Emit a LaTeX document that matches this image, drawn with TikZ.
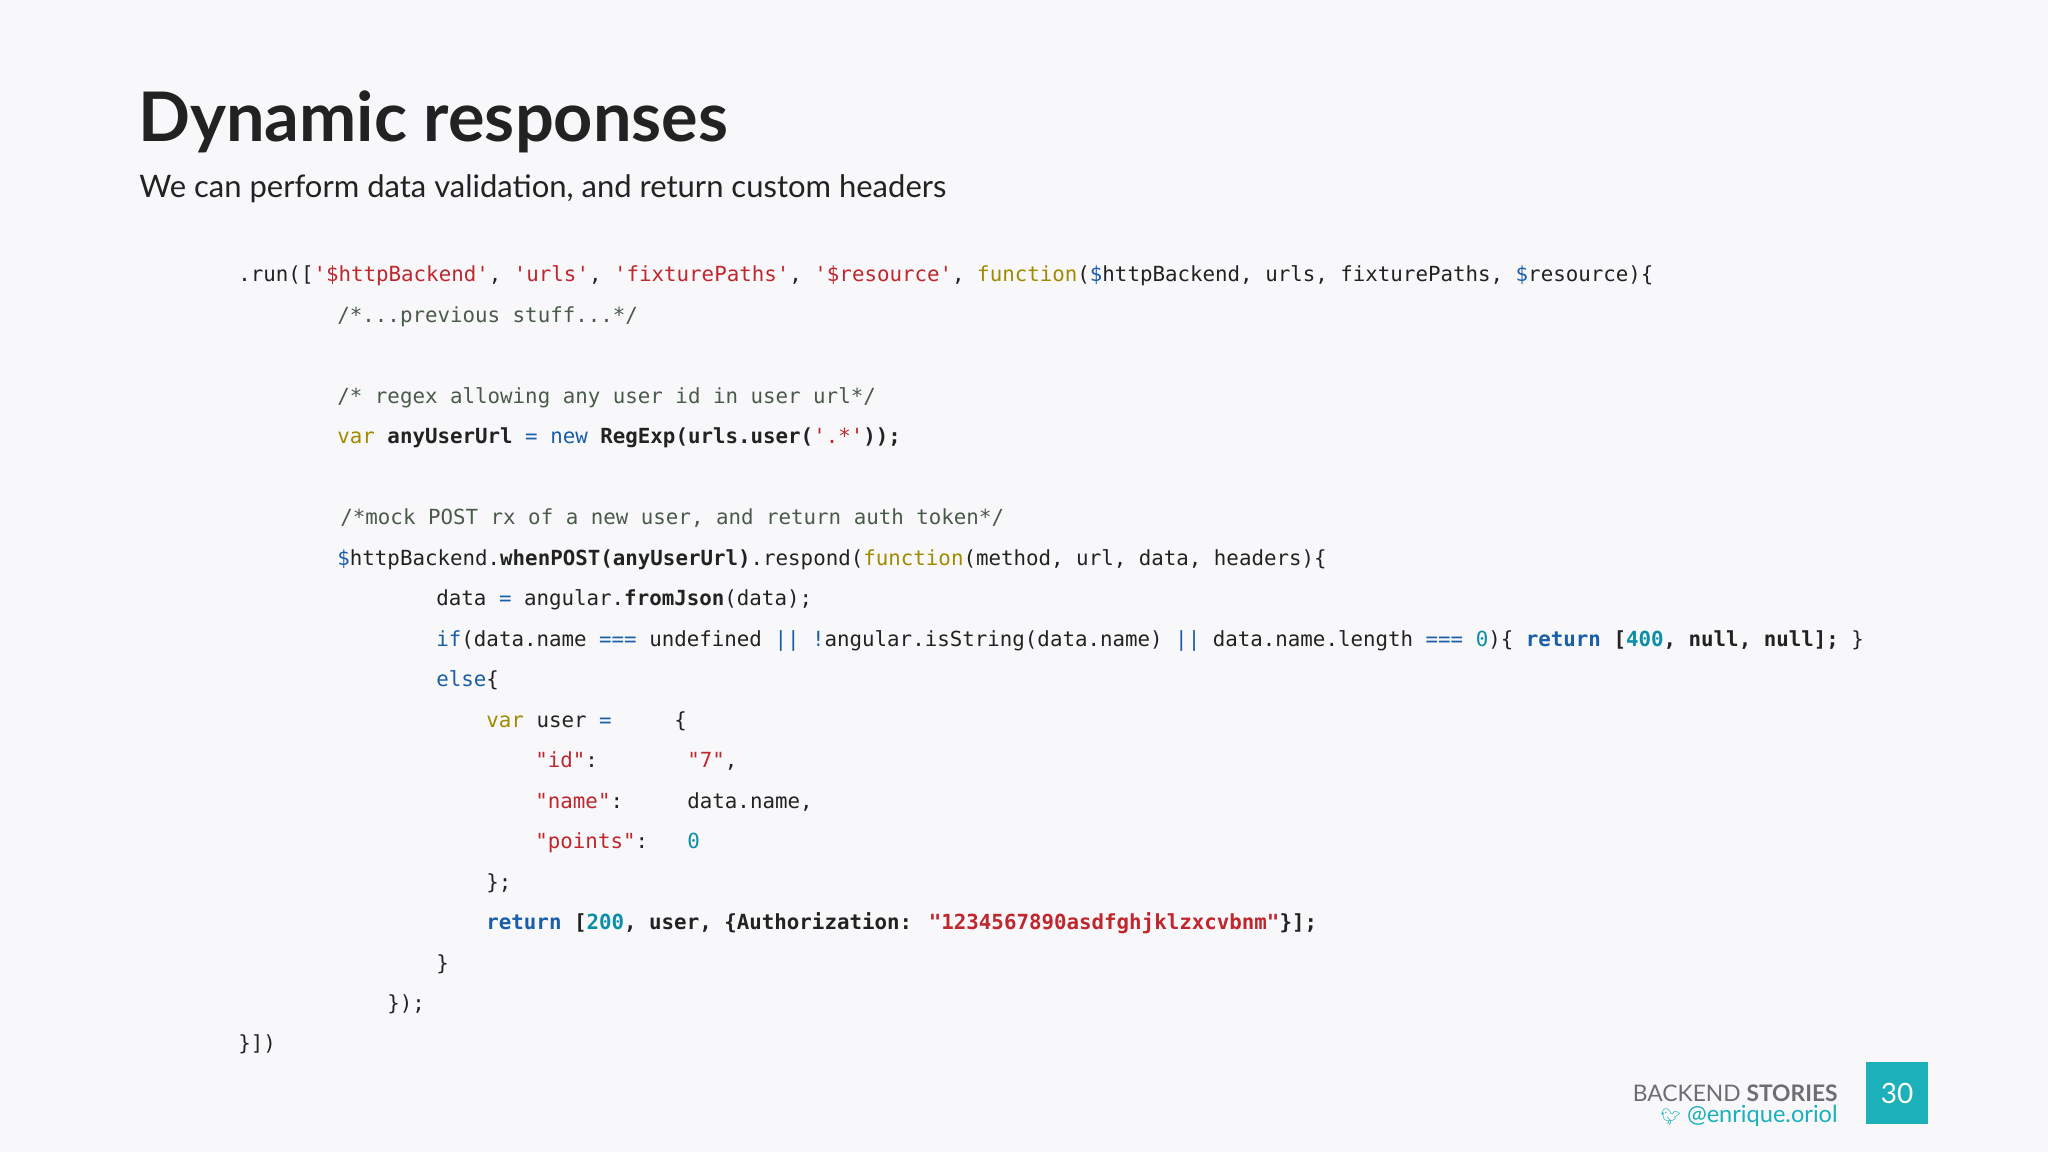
\documentclass[tikz,border=0pt]{standalone}
\usepackage{fontspec}
\setmainfont{Lato}
\newfontfamily\code{DejaVu Sans Mono}
\newfontfamily\emo{Noto Emoji}
\definecolor{bg}{HTML}{F8F8FA}
\definecolor{cstr}{HTML}{C0262D}
\definecolor{ckw}{HTML}{A08A00}
\definecolor{cblu}{HTML}{1A5EA8}
\definecolor{ccom}{HTML}{4A5A4A}
\definecolor{cnum}{HTML}{0B8FA6}
\definecolor{ctxt}{HTML}{222222}
\definecolor{teal}{HTML}{1BB0BA}
\definecolor{gry}{HTML}{6E6E72}
\newcommand\cS[1]{\textcolor{cstr}{#1}}
\newcommand\cK[1]{\textcolor{ckw}{#1}}
\newcommand\cB[1]{\textcolor{cblu}{#1}}
\newcommand\cC[1]{\textcolor{ccom}{#1}}
\newcommand\cN[1]{\textcolor{cnum}{#1}}
\begin{document}
\begin{tikzpicture}[x=0.5pt,y=-0.5pt,
  cl/.style={anchor=base west,inner sep=0pt,font=\code\fontsize{10.4pt}{13pt}\selectfont,text=ctxt}]
\fill[bg] (0,0) rectangle (2048,1152);
\useasboundingbox (0,0) rectangle (2048,1152);
\node[anchor=base west,inner sep=0pt,font=\bfseries\fontsize{34.2pt}{40pt}\selectfont,text=ctxt] (title) at (138,141) {Dynamic responses};
\node[anchor=base west,inner sep=0pt,font=\fontsize{15.5pt}{19pt}\selectfont,text=ctxt] (sub) at (139,197) {We can perform data validation, and return custom headers};
\node[cl] (l1) at (238,281) {.run([\cS{'\$httpBackend'}, \cS{'urls'}, \cS{'fixturePaths'}, \cS{'\$resource'}, \cK{function}(\cB{\$}httpBackend, urls, fixturePaths, \cB{\$}resource)\{};
\node[cl] (l2) at (337,322) {\cC{/*...previous stuff...*/}};
\node[cl] (l3) at (337,403) {\cC{/* regex allowing any user id in user url*/}};
\node[cl] (l4) at (337,443) {\cK{var} \textbf{anyUserUrl} \cB{=} \cB{new} \textbf{RegExp(urls.user(}\cS{'.*'}\textbf{));}};
\node[cl] (l5) at (340,524) {\cC{/*mock POST rx of a new user, and return auth token*/}};
\node[cl] (l6) at (337,565) {\cB{\$}httpBackend.\textbf{whenPOST(anyUserUrl)}.respond(\cK{function}(method, url, data, headers)\{};
\node[cl] (l7) at (436,605) {data \cB{=} angular.\textbf{fromJson}(data);};
\node[cl] (l8) at (436,646) {\cB{if}(data.name \cB{===} undefined \cB{||} \cB{!}angular.isString(data.name) \cB{||} data.name.length \cB{===} \cN{0})\{ \textbf{\cB{return} [\cN{400}, null, null];} \}};
\node[cl] (l9) at (436,686) {\cB{else}\{};
\node[cl] (l10) at (486,727) {\cK{var} user \cB{=}};
\node[cl] (l10b) at (674,727) {\{};
\node[cl] (l11) at (535,767) {\cS{"id"}:};
\node[cl] (l11b) at (687,767) {\cS{"7"},};
\node[cl] (l12) at (535,808) {\cS{"name"}:};
\node[cl] (l12b) at (687,808) {data.name,};
\node[cl] (l13) at (535,848) {\cS{"points"}:};
\node[cl] (l13b) at (687,848) {\cN{0}};
\node[cl] (l14) at (486,889) {\};};
\node[cl] (l15) at (486,929) {\textbf{\cB{return} [\cN{200}, user, \{Authorization: \cS{"1234567890asdfghjklzxcvbnm"}\}];}};
\node[cl] (l16) at (436,970) {\}};
\node[cl] (l17) at (387,1010) {\});};
\node[cl] (l18) at (238,1050) {\}])};
\node[anchor=base east,inner sep=0pt,font=\fontsize{11.4pt}{14pt}\selectfont,text=gry] (brand) at (1838,1101) {BACKEND \textbf{STORIES}};
\node[anchor=base east,inner sep=0pt,font=\fontsize{11.8pt}{14pt}\selectfont,text=teal] (handle) at (1838,1122) {{\emo\fontsize{8pt}{9pt}\selectfont 🐦} @enrique.oriol};
\node[fill=teal,minimum width=31pt,minimum height=31pt,inner sep=0pt,text=white,font=\fontsize{14pt}{16pt}\selectfont] (page) at (1897,1093) {30};
\end{tikzpicture}
\end{document}
